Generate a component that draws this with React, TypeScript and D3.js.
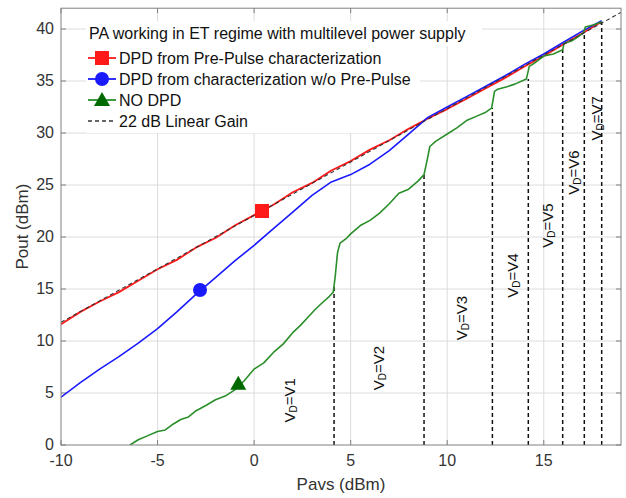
import React, { useRef, useEffect } from 'react';
import * as d3 from 'd3';

// Pavs / Pout readings (dBm)
const redPavs = [-10, -9, -8, -7, -6, -5, -4, -3, -2, -1, 0, 1, 2, 3, 4, 5, 6, 7, 8, 9, 10, 11, 12, 13, 14, 15, 16, 17, 18];
const redPout = [11.6, 12.8, 13.8, 14.7, 15.8, 16.9, 17.8, 19.0, 19.9, 21.1, 22.1, 23.1, 24.3, 25.2, 26.4, 27.3, 28.4, 29.3, 30.4, 31.4, 32.3, 33.3, 34.3, 35.3, 36.4, 37.4, 38.5, 39.6, 40.7];

const bluePavs = [-10, -9, -8, -7, -6, -5, -4, -3, -2, -1, 0, 1, 2, 3, 4, 5, 6, 7, 8, 9, 10, 11, 12, 13, 14, 15, 16, 17, 18];
const bluePout = [4.6, 6.0, 7.3, 8.5, 9.8, 11.2, 12.8, 14.5, 16.1, 17.7, 19.2, 20.8, 22.4, 24.0, 25.3, 26.0, 27.0, 28.3, 29.9, 31.5, 32.5, 33.5, 34.5, 35.5, 36.6, 37.6, 38.7, 39.8, 40.8];

const greenPavs = [-6.43, -6.0, -5.5, -5.0, -4.6, -4.2, -3.8, -3.4, -3.0, -2.5, -2.0, -1.5, -1.0, -0.5, 0, 0.5, 1.0, 1.5, 2.0, 2.4, 2.8, 3.2, 3.6, 3.9, 4.1, 4.2, 4.32, 4.45, 4.8, 5.0, 5.5, 6.0, 6.5, 7.0, 7.5, 8.0, 8.5, 8.8, 8.95, 9.1, 9.4, 10.0, 10.5, 11.0, 11.5, 12.0, 12.3, 12.45, 12.6, 13.1, 13.5, 14.1, 14.25, 14.5, 15.0, 15.5, 15.98, 16.05, 16.5, 17.05, 17.15, 17.6, 18.0];
const greenPout = [0, 0.5, 0.9, 1.3, 1.45, 2.0, 2.45, 2.7, 3.3, 3.8, 4.35, 4.7, 5.3, 6.2, 7.3, 7.9, 8.9, 9.7, 10.8, 11.5, 12.3, 13.1, 13.8, 14.3, 14.7, 16.2, 18.5, 19.4, 19.9, 20.3, 21.1, 21.6, 22.3, 23.2, 24.2, 24.6, 25.4, 26.0, 27.3, 28.7, 29.2, 29.9, 30.5, 31.2, 31.6, 32.0, 32.4, 34.0, 34.2, 34.45, 34.7, 35.2, 36.4, 36.7, 37.4, 37.6, 38.0, 38.6, 38.9, 39.6, 40.2, 40.4, 40.7];

const gainPavs = [-10, 19];
const gainPout = [11.8, 41.6];

// drain voltage switching points
const vdPavs = [4.14, 8.8, 12.34, 14.2, 15.98, 17.1, 18.0];
const vdTop = [15.2, 26.0, 32.4, 35.2, 38.0, 39.6, 40.7];
const vdNames = ['V1', 'V2', 'V3', 'V4', 'V5', 'V6', 'V7'];
const vdLabelPavs = [1.81, 6.42, 10.71, 13.36, 15.17, 16.51, 17.71];
const vdLabelPout = [4.3, 7.4, 12.2, 16.3, 21.1, 26.2, 31.4];

// marker positions
const markerRed = [0.41, 22.5];
const markerBlue = [-2.8, 14.9];
const markerGreen = [-0.82, 5.9];

const xTicks = [-10, -5, 0, 5, 10, 15];
const yTicks = [0, 5, 10, 15, 20, 25, 30, 35, 40];

const legendTitle = 'PA working in ET regime with multilevel power supply';
const legendLabels = [
  'DPD from Pre-Pulse characterization',
  'DPD from characterization w/o Pre-Pulse',
  'NO DPD',
  '22 dB Linear Gain',
];

const RED = '#ff1a1a';
const BLUE = '#1a1aff';
const GREEN = '#2a8f2a';
const GREEN_MK = '#006a00';
const FONT = '"Liberation Sans", Arial, Helvetica, sans-serif';

const App = () => {
  const chart = useRef<SVGSVGElement | null>(null);

  useEffect(() => {
    const svg = d3.select(chart.current);
    svg.selectAll('*').remove();

    const left = 61, right = 621, top = 8.2, bottom = 445;

    const x = d3.scaleLinear().domain([-10, 19]).range([left, right]);
    const y = d3.scaleLinear().domain([0, 42]).range([bottom, top]);

    svg.append('rect').attr('width', 626).attr('height', 498).attr('fill', '#fff');

    svg.append('defs').append('clipPath').attr('id', 'plotclip')
      .append('rect').attr('x', left).attr('y', top).attr('width', right - left).attr('height', bottom - top);

    // grid
    const grid = svg.append('g').attr('stroke', '#dcdcdc').attr('stroke-width', 1);
    xTicks.slice(1).forEach((t) => {
      grid.append('line').attr('x1', x(t)).attr('x2', x(t)).attr('y1', top).attr('y2', bottom);
    });
    yTicks.slice(1).forEach((t) => {
      grid.append('line').attr('x1', left).attr('x2', right).attr('y1', y(t)).attr('y2', y(t));
    });

    // ticks (inward, all four sides)
    const ticks = svg.append('g').attr('stroke', '#808080').attr('stroke-width', 1);
    xTicks.forEach((t) => {
      ticks.append('line').attr('x1', x(t)).attr('x2', x(t)).attr('y1', bottom).attr('y2', bottom - 5);
      ticks.append('line').attr('x1', x(t)).attr('x2', x(t)).attr('y1', top).attr('y2', top + 5);
    });
    yTicks.forEach((t) => {
      ticks.append('line').attr('x1', left).attr('x2', left + 5).attr('y1', y(t)).attr('y2', y(t));
      ticks.append('line').attr('x1', right).attr('x2', right - 5).attr('y1', y(t)).attr('y2', y(t));
    });

    // legend backgrounds (hide grid under text)
    svg.append('rect').attr('x', 86).attr('y', 21).attr('width', 396).attr('height', 25).attr('fill', '#fff');
    svg.append('rect').attr('x', 86).attr('y', 45).attr('width', 334).attr('height', 88).attr('fill', '#fff');

    const plot = svg.append('g').attr('clip-path', 'url(#plotclip)');

    // VD dashed lines
    vdPavs.forEach((v, i) => {
      plot.append('line')
        .attr('x1', x(v)).attr('x2', x(v))
        .attr('y1', y(0)).attr('y2', y(vdTop[i]))
        .attr('stroke', '#111').attr('stroke-width', 1.5)
        .attr('stroke-dasharray', '4,3');
    });

    const drawSeries = (px: number[], py: number[], color: string, w: number, dash?: string) => {
      const pts = px.map((d, i) => [x(d), y(py[i])] as [number, number]);
      const p = plot.append('path')
        .attr('d', d3.line()(pts))
        .attr('fill', 'none')
        .attr('stroke', color)
        .attr('stroke-width', w)
        .attr('stroke-linejoin', 'round');
      if (dash) p.attr('stroke-dasharray', dash);
    };

    drawSeries(redPavs, redPout, RED, 1.8);
    drawSeries(bluePavs, bluePout, BLUE, 1.6);
    drawSeries(greenPavs, greenPout, GREEN, 1.6);
    drawSeries(gainPavs, gainPout, '#333', 1.1, '4,3');

    // markers
    const square = (cx: number, cy: number, g: any) =>
      g.append('rect').attr('x', cx - 7).attr('y', cy - 7).attr('width', 14).attr('height', 14).attr('fill', RED);
    const circle = (cx: number, cy: number, g: any) =>
      g.append('circle').attr('cx', cx).attr('cy', cy).attr('r', 7).attr('fill', BLUE);
    const tri = (cx: number, cy: number, g: any) =>
      g.append('path').attr('d', `M${cx},${cy - 8}L${cx + 8},${cy + 6}L${cx - 8},${cy + 6}Z`).attr('fill', GREEN_MK);

    square(x(markerRed[0]), y(markerRed[1]), svg);
    circle(x(markerBlue[0]), y(markerBlue[1]), svg);
    tri(x(markerGreen[0]), y(markerGreen[1]), svg);

    // VD labels
    vdNames.forEach((n, i) => {
      const t = svg.append('text')
        .attr('transform', `translate(${x(vdLabelPavs[i])},${y(vdLabelPout[i])}) rotate(-90)`)
        .attr('text-anchor', 'middle')
        .attr('dominant-baseline', 'central')
        .attr('font-family', FONT)
        .attr('font-size', 15)
        .attr('fill', '#111');
      t.append('tspan').text('V');
      t.append('tspan').attr('font-size', 10).attr('dy', 4).text('D');
      t.append('tspan').attr('dy', -4).text('=' + n);
    });

    // frame
    svg.append('rect')
      .attr('x', left).attr('y', top).attr('width', right - left).attr('height', bottom - top)
      .attr('fill', 'none').attr('stroke', '#808080').attr('stroke-width', 1);

    // tick labels
    const lab = svg.append('g').attr('font-family', FONT).attr('font-size', 16).attr('fill', '#333');
    xTicks.forEach((t) => {
      lab.append('text').attr('x', x(t)).attr('y', 466).attr('text-anchor', 'middle').text(t);
    });
    yTicks.forEach((t) => {
      lab.append('text').attr('x', 54).attr('y', y(t) + 4.5).attr('text-anchor', 'end').text(t);
    });

    // axis titles
    svg.append('text')
      .attr('x', (left + right) / 2).attr('y', 490)
      .attr('text-anchor', 'middle')
      .attr('font-family', FONT).attr('font-size', 17).attr('fill', '#333')
      .text('Pavs (dBm)');
    svg.append('text')
      .attr('transform', `translate(28,${(top + bottom) / 2}) rotate(-90)`)
      .attr('text-anchor', 'middle')
      .attr('font-family', FONT).attr('font-size', 17).attr('fill', '#333')
      .text('Pout (dBm)');

    // legend
    const leg = svg.append('g').attr('font-family', FONT).attr('font-size', 16).attr('fill', '#111');
    leg.append('text').attr('x', 89).attr('y', 39).text(legendTitle);
    const rowY = [58, 79, 100, 121];
    const colors = [RED, BLUE, GREEN, '#333'];
    rowY.forEach((ry, i) => {
      leg.append('line')
        .attr('x1', 88).attr('x2', 116).attr('y1', ry).attr('y2', ry)
        .attr('stroke', colors[i])
        .attr('stroke-width', i === 3 ? 1.3 : 1.8)
        .attr('stroke-dasharray', i === 3 ? '4,3' : null);
      if (i === 0) square(102, ry, leg);
      if (i === 1) circle(102, ry, leg);
      if (i === 2) tri(102, ry, leg);
      leg.append('text').attr('x', 119).attr('y', ry + 5.5).text(legendLabels[i]);
    });
  }, []);

  return (
    <div>
      <svg
        ref={chart}
        width={626}
        height={498}
        style={{ position: 'absolute', left: 0, top: 0, display: 'block' }}
      />
    </div>
  );
};

export default App;
